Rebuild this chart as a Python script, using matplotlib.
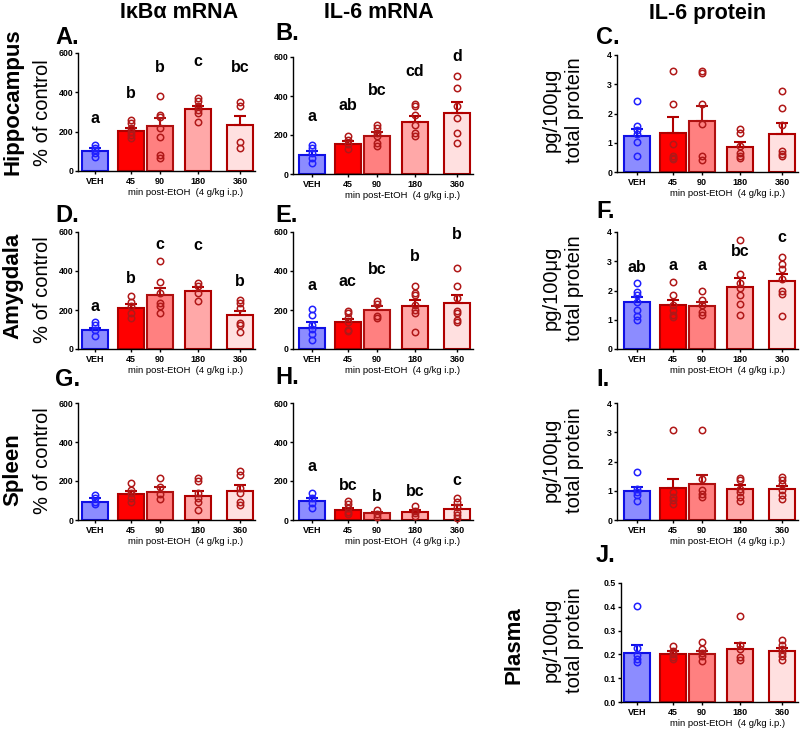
import matplotlib
matplotlib.use("Agg")
import matplotlib.pyplot as plt

plt.rcParams['font.family'] = ['Liberation Sans', 'DejaVu Sans']

W, H = 800, 729
groups = ["VEH", "45", "90", "180", "360"]
xpos = [0, 1.33, 2.41, 3.81, 5.37]

# ---- data ----
A_mean = [100, 204, 230, 315, 235]
A_top = [115, 218, 269, 332, 281]
A_pts = [[130, 115, 105, 90, 70], [260, 243, 218, 200, 184, 167],
         [379, 286, 277, 218, 175, 82, 65], [371, 354, 328, 311, 294, 247],
         [349, 328, 150, 119]]
A_sig = ["a", "b", "b", "c", "bc"]
A_sig_y = [269, 396, 524, 558, 524]

B_mean = [99, 156, 197, 267, 313]
B_top = [120, 168, 214, 299, 369]
B_pts = [[150, 133, 108, 82, 56], [193, 176, 154, 130],
         [253, 236, 210, 193, 159, 142], [361, 350, 304, 253, 210, 193],
         [501, 441, 347, 287, 210, 159]]
B_sig = ["a", "ab", "bc", "cd", "d"]
B_sig_y = [296, 350, 429, 527, 603]

C_mean = [1.22, 1.35, 1.73, 0.84, 1.31]
C_top = [1.48, 1.875, 2.26, 1.01, 1.67]
C_pts = [[2.43, 1.58, 1.44, 1.30, 1.02, 0.56], [3.45, 2.33, 0.97, 0.53, 0.44, 0.48],
         [3.45, 3.37, 2.33, 1.64, 0.53, 0.42], [1.47, 1.35, 0.875, 0.65, 0.53, 0.48],
         [2.78, 2.20, 1.61, 0.73, 0.61, 0.53]]

D_mean = [99, 209, 276, 299, 172]
D_top = [110, 230, 311, 316, 196]
D_pts = [[141, 124, 99, 68], [272, 243, 218, 184, 158],
         [451, 345, 286, 235, 221, 187], [337, 323, 286, 247],
         [252, 235, 209, 133, 124, 85]]
D_sig = ["a", "b", "c", "c", "b"]
D_sig_y = [218, 362, 537, 532, 345]

E_mean = [107, 136, 199, 221, 238]
E_top = [136, 155, 218, 252, 277]
E_pts = [[204, 175, 124, 102, 78, 48], [197, 184, 158, 136, 99, 90],
         [248, 231, 167, 158], [323, 289, 277, 226, 201, 184, 85],
         [417, 325, 264, 196, 184, 150, 136]]
E_sig = ["a", "ac", "bc", "b", "b"]
E_sig_y = [328, 345, 410, 473, 588]

F_mean = [1.60, 1.51, 1.47, 2.13, 2.33]
F_top = [1.77, 1.68, 1.59, 2.42, 2.58]
F_pts = [[2.24, 1.96, 1.85, 1.59, 1.34, 1.13, 1.00], [2.28, 1.85, 1.51, 1.34, 1.17, 1.08],
         [1.98, 1.68, 1.51, 1.28, 1.17], [3.74, 2.58, 2.27, 2.07, 1.85, 1.53, 1.17],
         [3.15, 2.89, 2.73, 2.38, 1.99, 1.88, 1.13]]
F_sig = ["ab", "a", "a", "bc", "c"]
F_sig_y = [2.78, 2.84, 2.84, 3.32, 3.81]

G_mean = [94, 133, 145, 124, 148]
G_top = [111, 148, 170, 148, 179]
G_pts = [[128, 114, 94, 80], [191, 153, 136, 111, 94], [216, 170, 133, 106],
         [213, 201, 140, 111, 94, 51], [250, 233, 165, 136, 94, 77]]

H_mean = [99, 51, 34, 43, 56]
H_top = [115, 63, 43, 51, 77]
H_pts = [[137, 111, 85, 60], [97, 80, 60, 43, 31], [51, 31, 17],
         [72, 48, 34, 21], [111, 91, 68, 43, 26, 9]]
H_sig = ["a", "bc", "b", "bc", "c"]
H_sig_y = [273, 179, 120, 145, 202]

I_mean = [0.98, 1.10, 1.24, 1.05, 1.05]
I_top = [1.13, 1.41, 1.55, 1.21, 1.16]
I_pts = [[1.64, 1.07, 0.96, 0.85, 0.66], [3.08, 0.96, 0.79, 0.68, 0.56],
         [3.08, 1.41, 1.02, 0.90, 0.77], [1.45, 1.38, 1.07, 0.96, 0.79, 0.66],
         [1.47, 1.36, 1.24, 1.02, 0.85, 0.73]]

J_mean = [0.207, 0.200, 0.200, 0.224, 0.214]
J_top = [0.241, 0.213, 0.214, 0.248, 0.228]
J_pts = [[0.403, 0.228, 0.196, 0.182, 0.168], [0.234, 0.214, 0.200, 0.189, 0.182],
         [0.252, 0.224, 0.206, 0.192, 0.172], [0.360, 0.238, 0.224, 0.189, 0.178],
         [0.262, 0.238, 0.224, 0.206, 0.192, 0.178]]

# ---- styles ----
fills = ["#8c8cff", "#ff0000", "#ff8080", "#ffa8a8", "#ffe0e0"]
edges = ["#1010e6", "#b00000", "#b01010", "#b00000", "#b00000"]
pt_colors = ["#2020ff", "#b01818", "#b01818", "#b01818", "#b01818"]

fig = plt.figure(figsize=(W / 100, H / 100), dpi=100)

UNIT = 27.0  # px per x unit

def make_ax(left, top, right, bottom, veh_center):
    ax = fig.add_axes([left / W, 1 - bottom / H, (right - left) / W, (bottom - top) / H])
    ax.set_xlim((left - veh_center) / UNIT, (right - veh_center) / UNIT)
    return ax

def draw(ax, mean, top, pts, ymax, yticks, yticklabels, sig=None, sig_y=None):
    for i in range(5):
        ax.bar(xpos[i], mean[i], width=0.95, color=fills[i], edgecolor=edges[i],
               linewidth=1.5, zorder=1)
        ax.errorbar(xpos[i], mean[i], yerr=[[0], [top[i] - mean[i]]], fmt='none',
                    ecolor=edges[i], elinewidth=1.5, capsize=4.5, capthick=1.5, zorder=2)
        ax.plot([xpos[i]] * len(pts[i]), pts[i], 'o', mfc='none', mec=pt_colors[i],
                ms=4.6, mew=1.1, zorder=3, clip_on=False)
        if sig is not None:
            ax.text(xpos[i], sig_y[i], sig[i], ha='center', va='center', fontsize=11.5,
                    fontweight='bold', clip_on=False)
    ax.set_ylim(0, ymax)
    ax.set_yticks(yticks)
    ax.set_yticklabels(yticklabels, fontsize=6.3, fontweight='bold')
    ax.set_xticks(xpos)
    ax.set_xticklabels(groups, fontsize=6.5, fontweight='bold')
    ax.tick_params(axis='x', length=2.2, width=1, pad=2.2, direction='out')
    ax.tick_params(axis='y', length=2.5, width=1, pad=1, direction='out')
    for s in ['top', 'right']:
        ax.spines[s].set_visible(False)
    for s in ['left', 'bottom']:
        ax.spines[s].set_linewidth(1.0)
    ax.set_facecolor('none')
    ax.annotate("min post-EtOH  (4 g/kg i.p.)", xy=((xpos[1] + xpos[4]) / 2, 0),
                xycoords=('data', 'axes fraction'), xytext=(0, -15.5),
                textcoords='offset points', ha='center', va='center', fontsize=6.8)

pct_ticks = [0, 200, 400, 600]
pct_lbl = ["0", "200", "400", "600"]
pg_ticks = [0, 1, 2, 3, 4]
pg_lbl = ["0", "1", "2", "3", "4"]

c1, c2, c3 = 95, 312, 637

axA = make_ax(78, 53, 255, 171, c1)
draw(axA, A_mean, A_top, A_pts, 600, pct_ticks, pct_lbl, A_sig, A_sig_y)
axB = make_ax(293, 57, 473, 174, c2)
draw(axB, B_mean, B_top, B_pts, 600, pct_ticks, pct_lbl, B_sig, B_sig_y)
axC = make_ax(617, 55, 798, 172, c3)
draw(axC, C_mean, C_top, C_pts, 4, pg_ticks, pg_lbl)

axD = make_ax(78, 232, 255, 349, c1)
draw(axD, D_mean, D_top, D_pts, 600, pct_ticks, pct_lbl, D_sig, D_sig_y)
axE = make_ax(293, 232, 473, 349, c2)
draw(axE, E_mean, E_top, E_pts, 600, pct_ticks, pct_lbl, E_sig, E_sig_y)
axF = make_ax(617, 232, 798, 349, c3)
draw(axF, F_mean, F_top, F_pts, 4, pg_ticks, pg_lbl, F_sig, F_sig_y)

axG = make_ax(78, 403, 255, 520, c1)
draw(axG, G_mean, G_top, G_pts, 600, pct_ticks, pct_lbl)
axH = make_ax(293, 403, 473, 520, c2)
draw(axH, H_mean, H_top, H_pts, 600, pct_ticks, pct_lbl, H_sig, H_sig_y)
axI = make_ax(617, 403, 798, 520, c3)
draw(axI, I_mean, I_top, I_pts, 4, pg_ticks, pg_lbl)

axJ = make_ax(621, 583, 798, 702, c3)
draw(axJ, J_mean, J_top, J_pts, 0.5, [0, 0.1, 0.2, 0.3, 0.4, 0.5],
     ["0.0", "0.1", "0.2", "0.3", "0.4", "0.5"])

def ftext(x, y, s, **kw):
    fig.text(x / W, 1 - y / H, s, **kw)

# column titles
ftext(179, 13, "IκBα mRNA", ha='center', va='center', fontsize=15.5, fontweight='bold')
ftext(379, 13, "IL-6 mRNA", ha='center', va='center', fontsize=15.5, fontweight='bold')
ftext(708, 13, "IL-6 protein", ha='center', va='center', fontsize=15.5, fontweight='bold')

# panel letters
for s, x, y in [("A.", 55, 37), ("B.", 275, 34), ("C.", 596, 37),
                ("D.", 55, 215), ("E.", 275, 216), ("F.", 596, 211),
                ("G.", 55, 380), ("H.", 275, 377), ("I.", 596, 379),
                ("J.", 596, 556)]:
    ftext(x, y, s, ha='left', va='center', fontsize=17, fontweight='bold')

# row labels
for s, y in [("Hippocampus", 102), ("Amygdala", 286), ("Spleen", 470)]:
    ftext(13, y, s, ha='center', va='center', rotation=90, fontsize=16, fontweight='bold')
for y in [113, 290, 461]:
    ftext(43, y, "% of control", ha='center', va='center', rotation=90, fontsize=14.5)
ftext(514, 645, "Plasma", ha='center', va='center', rotation=90, fontsize=16, fontweight='bold')
for y in [110, 288, 460, 640]:
    ftext(563, y, "pg/100μg\ntotal protein", ha='center', va='center', rotation=90,
          fontsize=14.5, linespacing=1.3, multialignment='center')

fig.savefig("out.png", dpi=100)
